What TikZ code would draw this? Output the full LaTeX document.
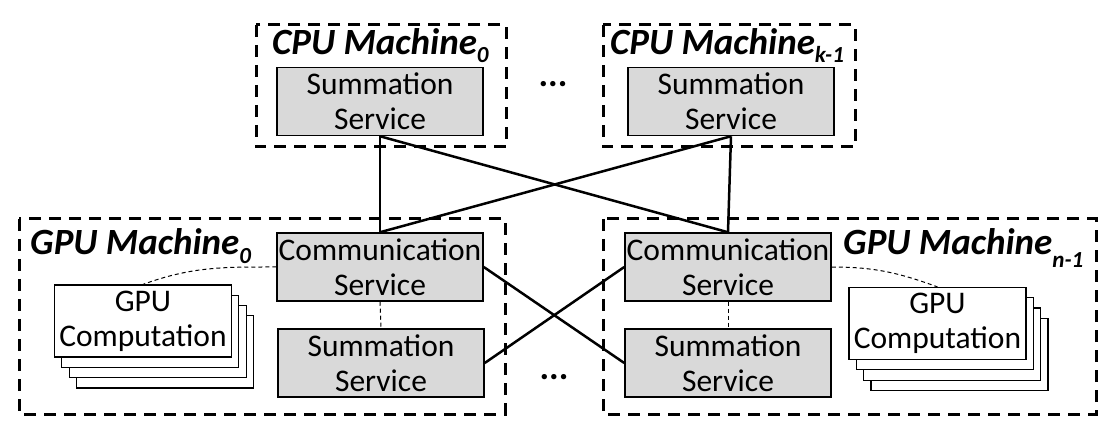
\documentclass[tikz,border=0pt]{standalone}
\usepackage{fontspec}
\setmainfont{Carlito}
\usetikzlibrary{positioning}
\definecolor{boxGray}{HTML}{D9D9D9}
\newcommand{\lowSub}[2]{\raisebox{-#2}{\fontsize{23}{23}\selectfont #1}}
\tikzstyle{machineBox} = [line width=3pt, dash pattern=on 12pt off 8pt]
\tikzstyle{machineLbl} = [inner sep=0pt, font=\fontsize{37}{42}\selectfont\bfseries\itshape]
\tikzstyle{svcBox} = [draw, line width=1.5pt, fill=boxGray, minimum width=206pt, minimum height=68pt, align=center, inner sep=0pt, font=\fontsize{31.5}{35}\selectfont]
\tikzstyle{compBox} = [draw, line width=1.2pt, fill=white, minimum width=177pt, minimum height=72pt, align=center, inner sep=0pt, font=\fontsize{31.5}{35}\selectfont]
\tikzstyle{netLink} = [line width=2.5pt]
\tikzstyle{localLink} = [line width=1pt, dash pattern=on 4pt off 3pt]
\begin{document}
\begin{tikzpicture}[x=1pt,y=-1pt]
  \useasboundingbox (0,0) rectangle (1120,422);
  % machine frames
  \draw[machineBox] (256,25) rectangle (506,147);
  \draw[machineBox] (603,25) rectangle (855,147);
  \draw[machineBox] (19,219) rectangle (505,414);
  \draw[machineBox] (603,219) rectangle (1096,414);
  \node[machineLbl, anchor=base west] (cpuLblA) at (272,55) {CPU Machine\lowSub{0}{8pt}};
  \node[machineLbl, anchor=base west] (cpuLblB) at (610,55) {CPU Machine\lowSub{k-1}{8pt}};
  \node[machineLbl, anchor=base west] (gpuLblA) at (30,255) {GPU Machine\lowSub{0}{9pt}};
  \node[machineLbl, anchor=base west] (gpuLblB) at (843,255) {GPU Machine\lowSub{n-1}{13pt}};
  % services
  \node[svcBox] (sumTopA) at (380,101.5) {Summation\\Service};
  \node[svcBox] (sumTopB) at (731,101.5) {Summation\\Service};
  \node[svcBox] (commA) at (380,267) {Communication\\Service};
  \node[svcBox] (sumA) at (381,363) {Summation\\Service};
  \node[svcBox] (commB) at (728,267) {Communication\\Service};
  \node[svcBox] (sumB) at (728,363) {Summation\\Service};
  % stacked gpu work
  \foreach \s in {3,2,1} {
    \node[compBox, xshift=\s*7.3pt, yshift=-\s*10.3pt] (stackA\s) at (143,321) {};
    \node[compBox, xshift=\s*7.3pt, yshift=-\s*10.3pt] (stackB\s) at (937.5,323.5) {};
  }
  \node[compBox] (gpuA) at (143,321) {GPU\\Computation};
  \node[compBox] (gpuB) at (937.5,323.5) {GPU\\Computation};
  \node[font=\fontsize{36}{40}\selectfont\bfseries] (dotsTop) at (553,84) {...};
  \node[font=\fontsize{36}{40}\selectfont\bfseries] (dotsBot) at (554,377) {...};
  % links
  \draw[netLink] (sumTopA.south) -- (commA.north);
  \draw[netLink] (sumTopA.south) -- (commB.north);
  \draw[netLink] (sumTopB.south) -- (commA.north);
  \draw[netLink] (sumTopB.south) -- (commB.north);
  \draw[netLink] (commA.east) -- (sumB.west);
  \draw[netLink] (commB.west) -- (sumA.east);
  \draw[localLink] (commA.south) -- (sumA.north);
  \draw[localLink] (commB.south) -- (sumB.north);
  \draw[localLink] (commA.west) to[out=180,in=20] (gpuA.north);
  \draw[localLink] (commB.east) to[out=0,in=160] (gpuB.north);
\end{tikzpicture}
\end{document}
